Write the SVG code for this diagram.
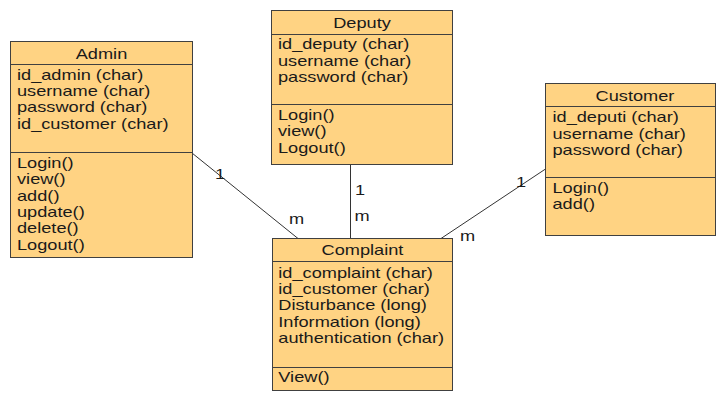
<svg xmlns="http://www.w3.org/2000/svg" width="716" height="394" viewBox="0 0 716 394">
<style>
.box{fill:#FFD383;stroke:#404040;stroke-width:1}
.sep{stroke:#404040;stroke-width:1}
.t{font-family:"Liberation Sans",Arial,sans-serif;font-size:14px;fill:#1a1a1a}
.c{text-anchor:middle}
.ln{stroke:#333;stroke-width:1;fill:none}
</style>
<rect width="716" height="394" fill="#fff"/>
<g id="connectors">
<line class="ln" x1="192" y1="153" x2="298" y2="238.5"/>
<line class="ln" x1="350.5" y1="164.5" x2="350.5" y2="238.5"/>
<line class="ln" x1="545.5" y1="169" x2="441" y2="238.5"/>
<g transform="translate(215,179) scale(1.3,1)"><text class="t" x="0" y="0">1</text></g>
<g transform="translate(289,224) scale(1.3,1)"><text class="t" x="0" y="0">m</text></g>
<g transform="translate(355,195) scale(1.3,1)"><text class="t" x="0" y="0">1</text></g>
<g transform="translate(354.5,221) scale(1.3,1)"><text class="t" x="0" y="0">m</text></g>
<g transform="translate(516,187) scale(1.3,1)"><text class="t" x="0" y="0">1</text></g>
<g transform="translate(460,241) scale(1.3,1)"><text class="t" x="0" y="0">m</text></g>
</g>
<g id="admin">
<rect class="box" x="10.5" y="41.5" width="182" height="216"/>
<line class="sep" x1="10.5" y1="64.5" x2="192.5" y2="64.5"/>
<line class="sep" x1="10.5" y1="152.5" x2="192.5" y2="152.5"/>
<g transform="translate(101.5,0) scale(1.3,1)"><text class="t c" x="0" y="59">Admin</text></g>
<g transform="translate(17,0) scale(1.3,1)">
<text class="t" x="0" y="80">id_admin (char)</text>
<text class="t" x="0" y="96.5">username (char)</text>
<text class="t" x="0" y="112.5">password (char)</text>
<text class="t" x="0" y="129">id_customer (char)</text>
<text class="t" x="0" y="168">Login()</text>
<text class="t" x="0" y="184.5">view()</text>
<text class="t" x="0" y="201">add()</text>
<text class="t" x="0" y="217">update()</text>
<text class="t" x="0" y="233.5">delete()</text>
<text class="t" x="0" y="250">Logout()</text>
</g>
</g>
<g id="deputy">
<rect class="box" x="271.5" y="10.5" width="181" height="154"/>
<line class="sep" x1="271.5" y1="34.5" x2="452.5" y2="34.5"/>
<line class="sep" x1="271.5" y1="104.5" x2="452.5" y2="104.5"/>
<g transform="translate(362,0) scale(1.3,1)"><text class="t c" x="0" y="28.5">Deputy</text></g>
<g transform="translate(278,0) scale(1.3,1)">
<text class="t" x="0" y="49.5">id_deputy (char)</text>
<text class="t" x="0" y="65.8">username (char)</text>
<text class="t" x="0" y="82">password (char)</text>
<text class="t" x="0" y="120">Login()</text>
<text class="t" x="0" y="136.5">view()</text>
<text class="t" x="0" y="153">Logout()</text>
</g>
</g>
<g id="customer">
<rect class="box" x="545.5" y="83.5" width="170" height="152"/>
<line class="sep" x1="545.5" y1="106.5" x2="715.5" y2="106.5"/>
<line class="sep" x1="545.5" y1="177.5" x2="715.5" y2="177.5"/>
<g transform="translate(635,0) scale(1.3,1)"><text class="t c" x="0" y="100.7">Customer</text></g>
<g transform="translate(552.5,0) scale(1.3,1)">
<text class="t" x="0" y="122.3">id_deputi (char)</text>
<text class="t" x="0" y="138.6">username (char)</text>
<text class="t" x="0" y="155">password (char)</text>
<text class="t" x="0" y="193">Login()</text>
<text class="t" x="0" y="209.5">add()</text>
</g>
</g>
<g id="complaint">
<rect class="box" x="272.5" y="238.5" width="180" height="152"/>
<line class="sep" x1="272.5" y1="261.5" x2="452.5" y2="261.5"/>
<line class="sep" x1="272.5" y1="367.5" x2="452.5" y2="367.5"/>
<g transform="translate(362.5,0) scale(1.3,1)"><text class="t c" x="0" y="255">Complaint</text></g>
<g transform="translate(278.3,0) scale(1.3,1)">
<text class="t" x="0" y="277.7">id_complaint (char)</text>
<text class="t" x="0" y="294">id_customer (char)</text>
<text class="t" x="0" y="310.3">Disturbance (long)</text>
<text class="t" x="0" y="326.6">Information (long)</text>
<text class="t" x="0" y="343">authentication (char)</text>
<text class="t" x="0" y="381.7">View()</text>
</g>
</g>
</svg>
